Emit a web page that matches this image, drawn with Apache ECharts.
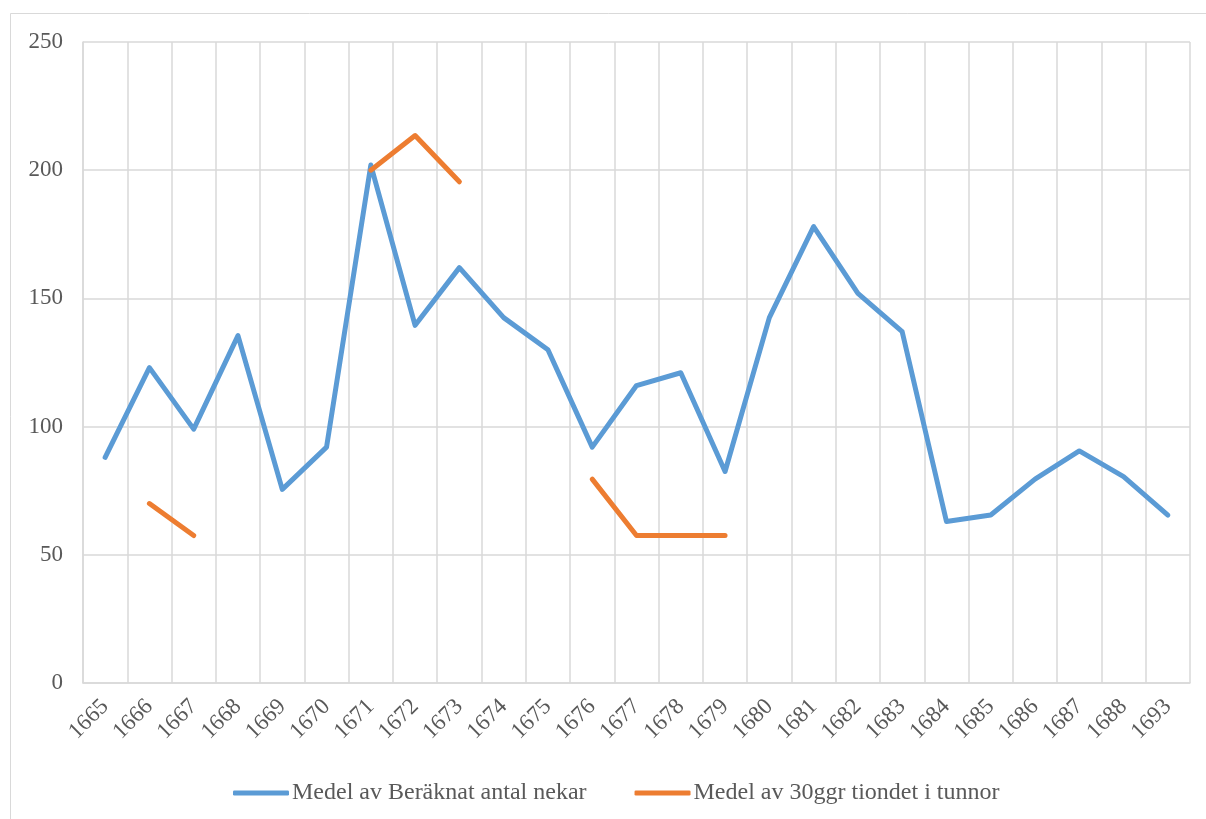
<!DOCTYPE html>
<html>
<head>
<meta charset="utf-8">
<script src="https://cdn.jsdelivr.net/npm/echarts@6/dist/echarts.min.js"></script>
<style>
  html, body { margin: 0; padding: 0; background: #fff; }
  #chart { width: 1206px; height: 819px; }
</style>
</head>
<body>
<div id="chart"></div>
<script>
// kategorier (år)
var years = ['1665','1666','1667','1668','1669','1670','1671','1672','1673','1674','1675','1676',
  '1677','1678','1679','1680','1681','1682','1683','1684','1685','1686','1687','1688','1693'];

// Medel av Beräknat antal nekar
var nekar = [88, 123, 99, 135.5, 75.5, 92, 202, 139.5, 162, 142.5, 130, 92,
  116, 121, 82.5, 142.5, 178, 152, 137, 63, 65.5, 79.5, 90.5, 80.5, 65.5];

// Medel av 30ggr tiondet i tunnor
var tionde = [null, 70, 57.5, null, null, null, 200, 213.5, 195.5, null, null, 79.5,
  57.5, 57.5, 57.5, null, null, null, null, null, null, null, null, null, null];

var yTicks = { min: 0, max: 250, interval: 50 };

var textColor = '#595959';
var gridColor = '#D9D9D9';
var font = '"Liberation Serif", "Times New Roman", serif';

var chart = echarts.init(document.getElementById('chart'));

chart.setOption({
  backgroundColor: '#fff',
  animation: false,
  textStyle: { fontFamily: font },
  graphic: [{
    type: 'rect',
    shape: { x: 10.5, y: 13.5, width: 1220, height: 830 },
    style: { fill: 'none', stroke: gridColor, lineWidth: 1 },
    silent: true
  }],
  grid: { left: 83, right: 16, top: 42, bottom: 136, containLabel: false },
  legend: {
    left: 228,
    top: 776,
    icon: 'roundRect',
    itemWidth: 56,
    itemHeight: 5,
    itemGap: 48,
    textStyle: { color: textColor, fontSize: 24, fontFamily: font, padding: [0, 0, 0, -2] },
    data: ['Medel av Beräknat antal nekar', 'Medel av 30ggr tiondet i tunnor']
  },
  xAxis: {
    type: 'category',
    data: years,
    boundaryGap: true,
    axisLine: { lineStyle: { color: gridColor, width: 1.5 } },
    axisTick: { show: false },
    splitLine: { show: true, lineStyle: { color: gridColor, width: 1.5 } },
    axisLabel: {
      interval: 0,
      rotate: 45,
      margin: 20,
      color: textColor,
      fontSize: 23,
      fontFamily: font
    }
  },
  yAxis: {
    type: 'value',
    min: yTicks.min,
    max: yTicks.max,
    interval: yTicks.interval,
    axisLine: { show: true, lineStyle: { color: gridColor, width: 1.5 } },
    axisTick: { show: false },
    splitLine: { lineStyle: { color: gridColor, width: 1.5 } },
    axisLabel: { color: textColor, fontSize: 23, margin: 20, fontFamily: font }
  },
  series: [{
    name: 'Medel av Beräknat antal nekar',
    type: 'line',
    data: nekar,
    symbol: 'none',
    lineStyle: { color: '#5B9BD5', width: 5, cap: 'round', join: 'round' },
    itemStyle: { color: '#5B9BD5' }
  }, {
    name: 'Medel av 30ggr tiondet i tunnor',
    type: 'line',
    data: tionde,
    symbol: 'none',
    connectNulls: false,
    lineStyle: { color: '#ED7D31', width: 5, cap: 'round', join: 'round' },
    itemStyle: { color: '#ED7D31' }
  }]
});
</script>
</body>
</html>
